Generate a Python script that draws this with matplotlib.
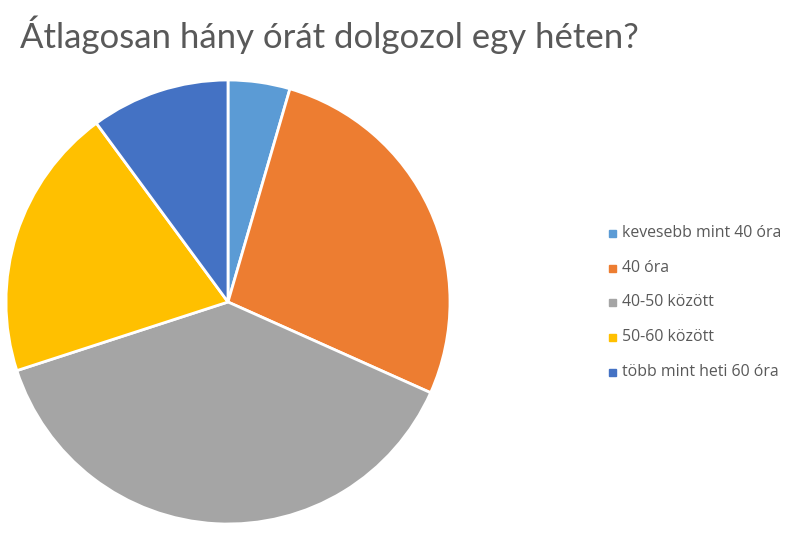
import matplotlib
matplotlib.use('Agg')
import matplotlib.pyplot as plt
from matplotlib.patches import Rectangle

labels = ['kevesebb mint 40 óra', '40 óra', '40-50 között', '50-60 között', 'több mint heti 60 óra']
values = [4.5, 27.2, 38.3, 19.9, 10.1]
colors = ['#5B9BD5', '#ED7D31', '#A5A5A5', '#FFC000', '#4472C4']

fig = plt.figure(figsize=(8.08, 5.36), dpi=100)
fig.text(0.025, 0.935, 'Átlagosan hány órát dolgozol egy héten?', fontsize=25,
         color='#595959', family=['Lato', 'DejaVu Sans'], va='center')

ax = fig.add_axes([6 / 808, 12 / 536, 444 / 808, 444 / 536])
ax.pie(values, colors=colors, startangle=90, counterclock=False,
       wedgeprops=dict(edgecolor='white', linewidth=2))
ax.set_xlim(-1.0, 1.0)
ax.set_ylim(-1.0, 1.0)
ax.set_aspect('equal')

ys = [233, 268, 302, 337, 372]
for lab, col, y in zip(labels, colors, ys):
    fy = 1 - y / 536
    fig.patches.append(Rectangle((609 / 808, fy - 3.5 / 536), 7 / 808, 7 / 536,
                                 color=col, transform=fig.transFigure))
    fig.text(622 / 808, fy, lab, fontsize=11.4, color='#595959',
             family=['Open Sans', 'DejaVu Sans'], va='center')

plt.savefig('out.png', dpi=100)
